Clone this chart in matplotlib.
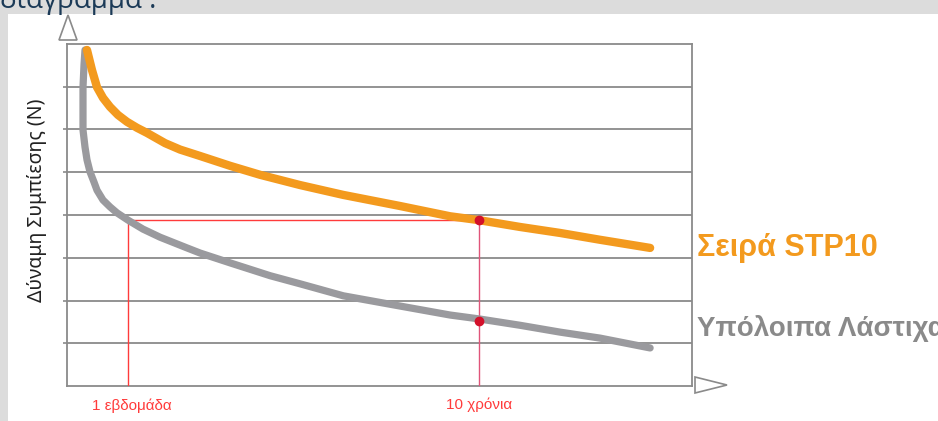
import matplotlib.pyplot as plt
from matplotlib.patches import Rectangle, Polygon

# force curves (x: 0..100 time axis, y: 0..8 grid units)
stp_x = [3.2, 4.0, 4.8, 5.76, 6.88, 8.16, 9.6, 11.2, 12.8, 15.7, 18.1, 21.3,
         26.1, 30.9, 37.3, 44.2, 53.3, 61.3, 65.9, 72.5, 78.9, 85.3, 93.3]
stp_y = [7.86, 7.39, 6.99, 6.74, 6.53, 6.34, 6.18, 6.04, 5.92, 5.68, 5.53, 5.38,
         5.15, 4.94, 4.70, 4.47, 4.21, 3.97, 3.88, 3.72, 3.58, 3.42, 3.23]

rest_x = [2.88, 2.72, 2.56, 2.56, 2.56, 2.88, 3.2, 3.68, 4.32, 4.8, 5.76, 6.88, 8.0,
          9.76, 12.16, 14.9, 19.2, 21.3, 26.1, 32.5, 37.3, 44.2, 53.3, 61.3, 65.9,
          72.5, 78.9, 85.3, 93.3]
rest_y = [7.86, 7.51, 6.99, 6.45, 5.99, 5.59, 5.29, 5.01, 4.77, 4.58, 4.35, 4.19, 4.05,
          3.88, 3.67, 3.48, 3.23, 3.11, 2.88, 2.58, 2.39, 2.11, 1.87, 1.66, 1.57,
          1.42, 1.26, 1.12, 0.89]

week_x = 9.76
years_x = 65.9
level_y = 3.88
years_rest_y = 1.52

W, H = 938, 421
fig = plt.figure(figsize=(W / 100, H / 100), dpi=100)
fig.patch.set_facecolor('#dcdcdc')

# white panel behind everything
fig.patches.append(Rectangle((8 / W, 0), 1, (H - 14) / H, transform=fig.transFigure,
                             facecolor='white', edgecolor='none', zorder=-10))
# cut-off heading
fig.text(0.0, 1 - 8 / H, 'διάγραμμα :', color='#1b3a57', fontsize=20,
         family='Open Sans', va='baseline', ha='left')

ax = fig.add_axes([67 / W, (H - 386) / H, (692 - 67) / W, (386 - 44) / H])
ax.set_facecolor('none')
ax.set_xlim(0, 100)
ax.set_ylim(0, 8)
for s in ax.spines.values():
    s.set_color('#8a8a8a')
    s.set_linewidth(1.3)

ax.set_yticks(range(1, 8))
ax.set_yticklabels([])
ax.set_xticks([])
ax.tick_params(axis='y', length=3, width=1.2, color='#8a8a8a', direction='out')
ax.grid(axis='y', color='#8a8a8a', linewidth=1.3)

# red guide lines
ax.plot([week_x, week_x], [0, level_y], color='#ff3b3b', lw=1, zorder=3)
ax.plot([week_x, years_x], [level_y, level_y], color='#ff3b3b', lw=1, zorder=3)
ax.plot([years_x, years_x], [0, level_y], color='#e0557a', lw=1, zorder=3)

ax.plot(rest_x, rest_y, color='#9a9a9e', lw=5.2, solid_capstyle='round',
        solid_joinstyle='round', zorder=4)
ax.plot(stp_x, stp_y, color='#f39a1e', lw=6, solid_capstyle='round',
        solid_joinstyle='round', zorder=5)

ax.plot([years_x, years_x], [level_y, years_rest_y], 'o', color='#d3102a',
        markersize=6, zorder=6)

fig.text(37 / W, 1 - 200 / H, 'Δύναμη Συμπίεσης (N)', fontsize=14, family='Noto Sans',
         color='#222222', rotation=90, ha='center', va='center')

fig.text(132 / W, 1 - 406 / H, '1 εβδομάδα', color='#ff3b3b', fontsize=11,
         ha='center', va='center', family='Liberation Sans')
fig.text(479 / W, 1 - 405 / H, '10 χρόνια', color='#ff3b3b', fontsize=11,
         ha='center', va='center', family='Liberation Sans')

fig.text(697 / W, 1 - 248 / H, 'Σειρά STP10', color='#f39a1e', fontsize=22,
         fontweight='bold', family='Liberation Sans', va='center', ha='left')
fig.text(697 / W, 1 - 328 / H, 'Υπόλοιπα Λάστιχα', color='#8a8a8a', fontsize=20,
         fontweight='bold', family='Liberation Sans', va='center', ha='left')

# axis arrows
def fig_pts(pts):
    return [(x / W, 1 - y / H) for x, y in pts]

fig.patches.append(Polygon(fig_pts([(68, 15), (59, 40), (77, 40)]), closed=True,
                           transform=fig.transFigure, facecolor='white',
                           edgecolor='#8a8a8a', lw=1.2))
fig.patches.append(Polygon(fig_pts([(695, 377), (727, 385), (695, 393)]), closed=True,
                           transform=fig.transFigure, facecolor='white',
                           edgecolor='#8a8a8a', lw=1.2))

fig.savefig('out.png', dpi=100, facecolor=fig.get_facecolor())
